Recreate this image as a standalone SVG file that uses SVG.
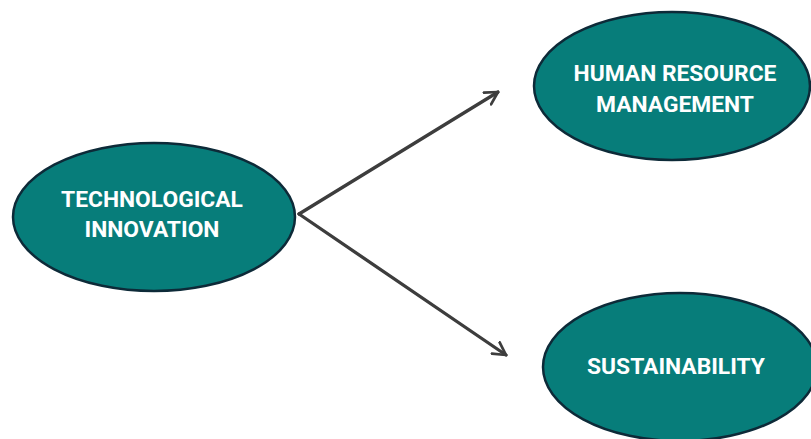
<svg xmlns="http://www.w3.org/2000/svg" width="811" height="439" viewBox="0 0 811 439">
<style>
.node{fill:#077d7a;stroke:#0d2a38;stroke-width:2.5}
.lbl{font-family:Roboto,"Liberation Sans",sans-serif;font-weight:bold;font-size:22.8px;fill:#ffffff;text-anchor:middle}
.conn{stroke:#3d3d3d;stroke-width:3.3;fill:none;stroke-linecap:round}
</style>
<defs>
<marker id="arr" viewBox="0 0 12 12" refX="10" refY="6" markerWidth="5" markerHeight="5" orient="auto" markerUnits="strokeWidth">
<path d="M1,1 L10,6 L1,11" fill="none" stroke="#3d3d3d" stroke-width="2" stroke-linecap="round" stroke-linejoin="round"/>
</marker>
</defs>
<rect width="811" height="439" fill="#ffffff"/>
<g id="connectors">
<line class="conn" x1="299" y1="214" x2="498" y2="92" marker-end="url(#arr)"/>
<line class="conn" x1="299" y1="214" x2="506" y2="355" marker-end="url(#arr)"/>
</g>
<g id="tech">
<ellipse class="node" cx="154" cy="217" rx="141" ry="74"/>
<text class="lbl" x="152" y="207">TECHNOLOGICAL</text>
<text class="lbl" x="152" y="237">INNOVATION</text>
</g>
<g id="hrm">
<ellipse class="node" cx="672" cy="86" rx="138" ry="74"/>
<text class="lbl" x="675" y="81">HUMAN RESOURCE</text>
<text class="lbl" x="675" y="112">MANAGEMENT</text>
</g>
<g id="sust">
<ellipse class="node" cx="680" cy="367" rx="137" ry="74"/>
<text class="lbl" x="676" y="374">SUSTAINABILITY</text>
</g>
</svg>
